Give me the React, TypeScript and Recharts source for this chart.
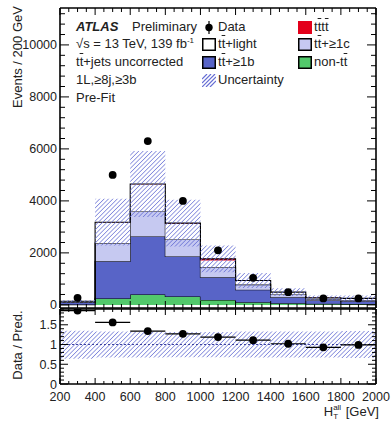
import {
  ComposedChart,
  Area,
  Scatter,
  XAxis,
  YAxis,
  ErrorBar,
  ReferenceLine,
} from "recharts";

const FONT = '"Liberation Sans", Arial, Helvetica, sans-serif';

// H_T^all binning (200 GeV bins)
const binEdges = [200, 400, 600, 800, 1000, 1200, 1400, 1600, 1800, 2000];
const binCenters = [300, 500, 700, 900, 1100, 1300, 1500, 1700, 1900];

// stacked prediction, events per bin (bottom to top)
const nonTt = [10, 250, 400, 320, 190, 100, 60, 40, 30];
const ttB = [80, 1430, 2230, 1540, 875, 480, 235, 130, 110];
const ttC = [20, 695, 960, 655, 385, 200, 105, 60, 50];
const ttLight = [30, 797, 1050, 620, 260, 148, 87, 38, 58];
const tttt = [0, 8, 10, 10, 60, 12, 3, 2, 2];
const uncertainty = [50, 900, 1270, 895, 515, 290, 150, 90, 110];

const dataCounts = [270, 5000, 6300, 4000, 2100, 1040, 490, 250, 250];

// lower panel
const ratio = [1.86, 1.56, 1.34, 1.27, 1.19, 1.11, 1.02, 0.93, 0.99];
const ratioLow = [0.64, 0.67, 0.67, 0.68, 0.68, 0.67, 0.67, 0.67, 0.66];
const ratioHigh = [1.35, 1.33, 1.33, 1.32, 1.32, 1.33, 1.33, 1.33, 1.34];

// tick labels
const xMajor = [200, 400, 600, 800, 1000, 1200, 1400, 1600, 1800, 2000];
const yMajor = [0, 2000, 4000, 6000, 8000, 10000];
const rMajor = [0, 0.5, 1, 1.5];

const range = (from: number, to: number, step: number) => {
  const out: number[] = [];
  for (let v = from; v <= to + 1e-9; v += step) out.push(Math.round(v * 100) / 100);
  return out;
};
const xTicks = range(200, 2000, 50);
const yTicks = range(0, 11200, 400);
const rTicks = range(0, 1.9, 0.1);

const COLORS = {
  nonTt: "#52c96b",
  ttB: "#5864c7",
  ttC: "#c6c9f1",
  ttLight: "#ffffff",
  tttt: "#e3001b",
  hatch: "#666ed4",
};

// step rows: one per bin edge, last edge repeats the last bin
const lastBin = binCenters.length - 1;
const mainRows = binEdges.map((x, i) => {
  const k = Math.min(i, lastBin);
  const total = nonTt[k] + ttB[k] + ttC[k] + ttLight[k] + tttt[k];
  return {
    x,
    nonTt: nonTt[k],
    ttB: ttB[k],
    ttC: ttC[k],
    ttLight: ttLight[k],
    tttt: tttt[k],
    unc: [total - uncertainty[k], total + uncertainty[k]],
  };
});
const ratioRows = binEdges.map((x, i) => {
  const k = Math.min(i, lastBin);
  return { x, band: [ratioLow[k], ratioHigh[k]] };
});
const dataPoints = binCenters.map((x, i) => ({ x, y: dataCounts[i] }));
const ratioPoints = binCenters.map((x, i) => ({ x, y: ratio[i], xErr: 100 }));

const tickText = { fontFamily: FONT, fontSize: 12.5, fill: "#222" };

// ROOT style ticks: drawn inwards, labels outside
const axisTick =
  (side: string, majors: number[], majorLen: number, minorLen: number, labels: boolean) =>
  (props: any) => {
    const { x, y, payload } = props;
    const v = payload.value;
    const major = majors.some((m) => Math.abs(m - v) < 1e-6);
    const len = major ? majorLen : minorLen;
    let x2 = x;
    let y2 = y;
    if (side === "left") x2 = x + len;
    if (side === "right") x2 = x - len;
    if (side === "top") y2 = y + len;
    if (side === "bottom") y2 = y - len;
    return (
      <g>
        <line x1={x} y1={y} x2={x2} y2={y2} stroke="#000" strokeWidth={1} />
        {labels && major && side === "left" && (
          <text x={x - 3} y={y} dy="0.36em" textAnchor="end" {...tickText}>
            {v}
          </text>
        )}
        {labels && major && side === "bottom" && (
          <text x={x} y={y + 6} dy="0.9em" textAnchor="middle" {...tickText}>
            {v}
          </text>
        )}
      </g>
    );
  };

const axisLine = { stroke: "#000", strokeWidth: 1.6 };

const xAxisProps = (id: string, side: "top" | "bottom", majorLen: number, minorLen: number, labels: boolean) => ({
  xAxisId: id,
  orientation: side,
  dataKey: "x",
  type: "number" as const,
  domain: [200, 2000],
  ticks: xTicks,
  interval: 0,
  allowDataOverflow: true,
  height: 1,
  tickSize: 0,
  tickMargin: 0,
  axisLine,
  tickLine: false,
  tick: axisTick(side, xMajor, majorLen, minorLen, labels),
});

const yAxisProps = (
  id: string,
  side: "left" | "right",
  domain: number[],
  ticks: number[],
  majors: number[],
  majorLen: number,
  minorLen: number,
  labels: boolean
) => ({
  yAxisId: id,
  orientation: side,
  type: "number" as const,
  domain,
  ticks,
  interval: 0,
  allowDataOverflow: true,
  width: 1,
  tickSize: 0,
  tickMargin: 0,
  axisLine,
  tickLine: false,
  tick: axisTick(side, majors, majorLen, minorLen, labels),
});

const Hatch = ({ id }: { id: string }) => (
  <defs>
    <pattern
      id={id}
      patternUnits="userSpaceOnUse"
      width={3.1}
      height={3.1}
      patternTransform="rotate(45)"
    >
      <line x1={0} y1={0} x2={0} y2={3.1} stroke={COLORS.hatch} strokeWidth={1.3} />
    </pattern>
  </defs>
);

const Tt = () => (
  <>
    t<span style={{ textDecoration: "overline" }}>t</span>
  </>
);

const Box = ({ color, border = "#000", hatch = false }: { color: string; border?: string; hatch?: boolean }) => (
  <svg width={14} height={13} style={{ position: "absolute", left: 0, top: 2 }}>
    {hatch ? (
      <g stroke={COLORS.hatch} strokeWidth={1.2}>
        <line x1={0} y1={5} x2={5} y2={0} />
        <line x1={0} y1={9} x2={9} y2={0} />
        <line x1={0} y1={13} x2={13} y2={0} />
        <line x1={4} y1={13} x2={14} y2={3} />
        <line x1={8} y1={13} x2={14} y2={7} />
      </g>
    ) : (
      <rect x={0.75} y={0.75} width={12.5} height={11.5} fill={color} stroke={border} strokeWidth={1.5} />
    )}
  </svg>
);

const Entry = ({ left, top, children, marker }: any) => (
  <div style={{ position: "absolute", left, top, height: 17, whiteSpace: "nowrap" }}>
    <div style={{ position: "absolute", left: 0, top: 0, width: 14, height: 17 }}>{marker}</div>
    <div style={{ position: "absolute", left: 16, top: 0 }}>{children}</div>
  </div>
);

const rowTop = [19, 36, 54, 72, 90];
const stackKeys = ["nonTt", "ttB", "ttC", "ttLight", "tttt"] as const;

export default function App() {
  return (
    <div
      style={{
        position: "absolute",
        left: 0,
        top: 0,
        width: 391,
        height: 423,
        background: "#fff",
        fontFamily: FONT,
        fontSize: 13,
        color: "#222",
      }}
    >
      <div style={{ position: "absolute", left: 0, top: 0 }}>
        <ComposedChart
          width={391}
          height={312}
          data={mainRows}
          margin={{ top: 7, right: 14, bottom: 3, left: 59 }}
        >
          <Hatch id="hatchMain" />
          <XAxis {...xAxisProps("b", "bottom", 7, 4, false)} />
          <XAxis {...xAxisProps("t", "top", 7, 4, false)} />
          <YAxis {...yAxisProps("l", "left", [-120, 11420], yTicks, yMajor, 9, 5, true)} />
          <YAxis {...yAxisProps("r", "right", [-120, 11420], yTicks, yMajor, 9, 5, false)} />
          {stackKeys.map((key) => (
            <Area
              key={key}
              xAxisId="b"
              yAxisId="l"
              dataKey={key}
              stackId="mc"
              type="stepAfter"
              fill={COLORS[key]}
              fillOpacity={1}
              stroke={key === "ttLight" ? "none" : "#000"}
              strokeWidth={1.1}
              dot={false}
              activeDot={false}
              isAnimationActive={false}
            />
          ))}
          <Area
            xAxisId="b"
            yAxisId="l"
            dataKey="unc"
            type="stepAfter"
            fill="url(#hatchMain)"
            fillOpacity={1}
            stroke="none"
            dot={false}
            activeDot={false}
            isAnimationActive={false}
          />
          <Scatter
            xAxisId="b"
            yAxisId="l"
            data={dataPoints}
            dataKey="y"
            isAnimationActive={false}
            shape={(p: any) => <circle cx={p.cx} cy={p.cy} r={3.9} fill="#000" />}
          />
        </ComposedChart>
      </div>

      <div style={{ position: "absolute", left: 0, top: 296 }}>
        <ComposedChart
          width={391}
          height={127}
          data={ratioRows}
          margin={{ top: 12, right: 14, bottom: 38, left: 59 }}
        >
          <Hatch id="hatchRatio" />
          <XAxis {...xAxisProps("b", "bottom", 6, 3, true)} />
          <XAxis {...xAxisProps("t", "top", 6, 3, false)} />
          <YAxis {...yAxisProps("l", "left", [0, 1.9], rTicks, rMajor, 8, 4, true)} />
          <YAxis {...yAxisProps("r", "right", [0, 1.9], rTicks, rMajor, 8, 4, false)} />
          <Area
            xAxisId="b"
            yAxisId="l"
            dataKey="band"
            type="stepAfter"
            fill="url(#hatchRatio)"
            fillOpacity={1}
            stroke="none"
            dot={false}
            activeDot={false}
            isAnimationActive={false}
          />
          <ReferenceLine
            xAxisId="b"
            yAxisId="l"
            y={1}
            stroke="#3a3f9c"
            strokeWidth={1}
            strokeDasharray="2 2"
          />
          <Scatter
            xAxisId="b"
            yAxisId="l"
            data={ratioPoints}
            dataKey="y"
            isAnimationActive={false}
            shape={(p: any) => <circle cx={p.cx} cy={p.cy} r={3.9} fill="#000" />}
          >
            <ErrorBar dataKey="xErr" direction="x" width={0} stroke="#000" strokeWidth={1.2} />
          </Scatter>
        </ComposedChart>
      </div>

      {/* axis titles */}
      <div
        style={{
          position: "absolute",
          left: 10,
          top: 108,
          width: 100,
          textAlign: "right",
          whiteSpace: "nowrap",
          transform: "rotate(-90deg)",
          transformOrigin: "0 0",
        }}
      >
        Events / 200 GeV
      </div>
      <div
        style={{
          position: "absolute",
          left: 10,
          top: 385,
          width: 80,
          textAlign: "center",
          whiteSpace: "nowrap",
          transform: "rotate(-90deg)",
          transformOrigin: "0 0",
        }}
      >
        Data / Pred.
      </div>
      <div
        style={{
          position: "absolute",
          left: 270,
          top: 404,
          width: 109,
          textAlign: "right",
          whiteSpace: "nowrap",
        }}
      >
        H
        <span style={{ display: "inline-block", position: "relative", width: 9, height: 10 }}>
          <span style={{ position: "absolute", left: 0, top: -3, fontSize: 8 }}>all</span>
          <span style={{ position: "absolute", left: 0, top: 6, fontSize: 8 }}>T</span>
        </span>{" "}
        [GeV]
      </div>

      {/* labels and legend */}
      <div style={{ position: "absolute", left: 76, top: rowTop[0], fontWeight: "bold", fontStyle: "italic" }}>
        ATLAS
      </div>
      <div style={{ position: "absolute", left: 132, top: rowTop[0] }}>Preliminary</div>
      <div style={{ position: "absolute", left: 76, top: rowTop[1], whiteSpace: "nowrap" }}>
        √s = 13 TeV, 139 fb<sup style={{ fontSize: 8 }}>-1</sup>
      </div>
      <div style={{ position: "absolute", left: 76, top: rowTop[2] }}>
        <Tt />+jets uncorrected
      </div>
      <div style={{ position: "absolute", left: 76, top: rowTop[3] }}>1L,≥8j,≥3b</div>
      <div style={{ position: "absolute", left: 76, top: rowTop[4] }}>Pre-Fit</div>

      <Entry
        left={202}
        top={rowTop[0]}
        marker={
          <svg width={14} height={17}>
            <line x1={7} y1={2} x2={7} y2={15} stroke="#000" strokeWidth={1.2} />
            <circle cx={7} cy={8.5} r={3.7} fill="#000" />
          </svg>
        }
      >
        Data
      </Entry>
      <Entry left={202} top={rowTop[1]} marker={<Box color={COLORS.ttLight} />}>
        <Tt />+light
      </Entry>
      <Entry left={202} top={rowTop[2]} marker={<Box color={COLORS.ttB} />}>
        <Tt />+≥1b
      </Entry>
      <Entry left={202} top={rowTop[3]} marker={<Box color="none" hatch />}>
        Uncertainty
      </Entry>
      <Entry left={298} top={rowTop[0]} marker={<Box color={COLORS.tttt} border={COLORS.tttt} />}>
        <Tt />
        <Tt />
      </Entry>
      <Entry left={298} top={rowTop[1]} marker={<Box color={COLORS.ttC} />}>
        <Tt />+≥1c
      </Entry>
      <Entry left={298} top={rowTop[2]} marker={<Box color={COLORS.nonTt} />}>
        non-<Tt />
      </Entry>
    </div>
  );
}
